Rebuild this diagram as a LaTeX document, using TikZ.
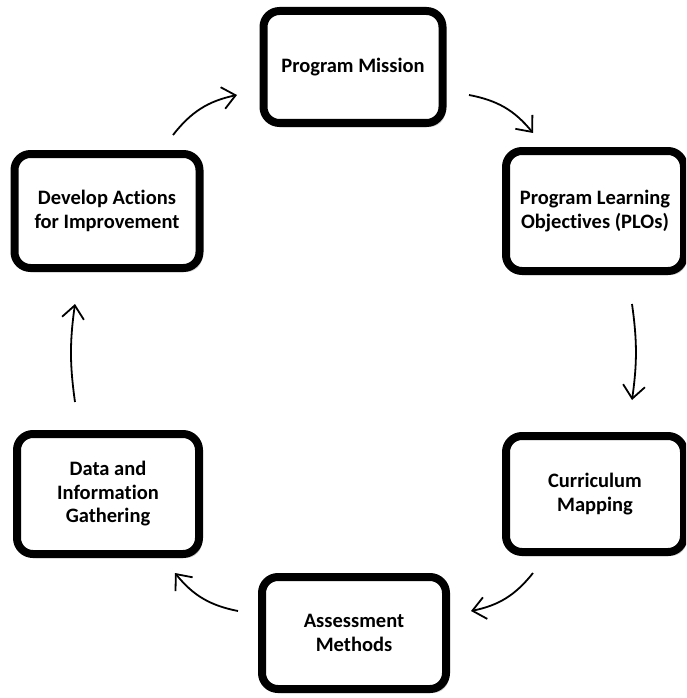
\documentclass[tikz,border=0pt]{standalone}
\usepackage{fontspec}
\setmainfont[Ligatures={NoCommon}]{Carlito}
\usetikzlibrary{arrows.meta,shadows}
\tikzset{
  stage/.style={draw=black, line width=8pt, rounded corners=16pt, fill=white,
    align=center, font=\fontsize{20.5}{23.5}\selectfont\bfseries, inner sep=0pt,
    drop shadow={shadow xshift=3pt, shadow yshift=-4pt, opacity=0.18, fill=black}},
  flow/.style={line width=1.8pt, -{Straight Barb[length=13pt,width=22pt,line width=1.8pt]}, bend left=20}
}
\begin{document}
\begin{tikzpicture}[x=1pt,y=-1pt]
\useasboundingbox (0,0) rectangle (686,698);
\clip (0,0) rectangle (686,698);
\node[stage, minimum width=179pt, minimum height=112pt] (mission) at (353,67) {Program Mission};
\node[stage, minimum width=178pt, minimum height=120pt] (plo) at (595,211) {Program Learning\\Objectives (PLOs)};
\node[stage, minimum width=178pt, minimum height=116pt] (curr) at (595,494) {Curriculum\\Mapping};
\node[stage, minimum width=184pt, minimum height=112pt] (assess) at (354,633) {Assessment\\Methods};
\node[stage, minimum width=182pt, minimum height=120pt] (data) at (108,494) {Data and\\Information\\Gathering};
\node[stage, minimum width=185pt, minimum height=114pt] (dev) at (107,211) {Develop Actions\\for Improvement};
\coordinate (a1s) at (173,135); \coordinate (a1e) at (237,95);
\coordinate (a2s) at (469,95);  \coordinate (a2e) at (533,133);
\coordinate (a3s) at (632,304); \coordinate (a3e) at (632,400);
\coordinate (a4s) at (533,573); \coordinate (a4e) at (471,611);
\coordinate (a5s) at (238,611); \coordinate (a5e) at (175,573);
\coordinate (a6s) at (75,402);  \coordinate (a6e) at (75,304);
\draw[flow] (a1s) to (a1e);
\draw[flow] (a2s) to (a2e);
\draw[flow, bend left=8] (a3s) to (a3e);
\draw[flow] (a4s) to (a4e);
\draw[flow] (a5s) to (a5e);
\draw[flow, bend left=8] (a6s) to (a6e);
\end{tikzpicture}
\end{document}
